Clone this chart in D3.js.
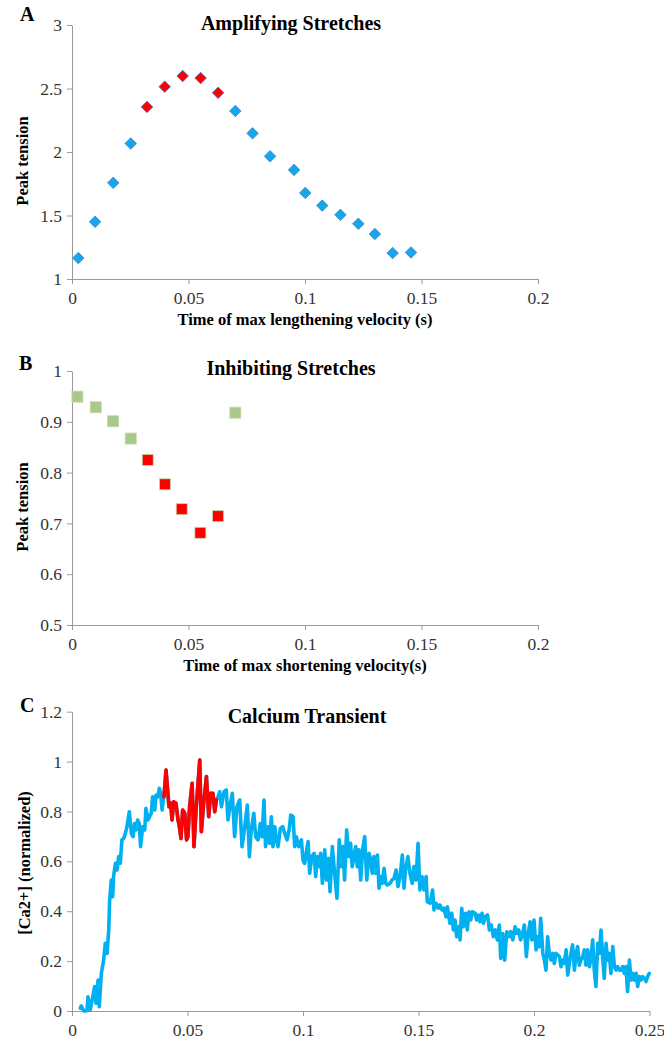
<!DOCTYPE html>
<html>
<head>
<meta charset="utf-8">
<script src="https://cdn.jsdelivr.net/npm/d3@7"></script>
<style>
  html, body { margin: 0; padding: 0; background: #fff; }
  svg { display: block; }
  svg .tick text { font-family: "Liberation Serif", serif; }
</style>
</head>
<body>
<svg id="chart" width="664" height="1041"></svg>
<script>
// ---------- Panel A: Amplifying Stretches ----------
const ampTime    = [0.0027,0.0099,0.0177,0.0252,0.0322,0.0398,0.0475,0.0552,0.0627,0.0701,0.0775,0.0850,0.0953,0.1001,0.1074,0.1152,0.1229,0.1300,0.1376,0.1455];
const ampTension = [1.165,1.450,1.757,2.067,2.355,2.514,2.598,2.582,2.466,2.323,2.147,1.966,1.859,1.678,1.578,1.505,1.435,1.354,1.204,1.209];
const ampHighlight = [0,0,0,0,1,1,1,1,1,0,0,0,0,0,0,0,0,0,0,0];
const ampXTicks = [0,0.05,0.1,0.15,0.2];
const ampXLabels = ["0","0.05","0.1","0.15","0.2"];
const ampYTicks = [1,1.5,2,2.5,3];
const ampYLabels = ["1","1.5","2","2.5","3"];

// ---------- Panel B: Inhibiting Stretches ----------
const inhTime    = [0.0023,0.0102,0.0176,0.0252,0.0325,0.0399,0.0471,0.0551,0.0627,0.0701];
const inhTension = [0.9495,0.9286,0.901,0.867,0.825,0.777,0.728,0.6815,0.7143,0.918];
const inhHighlight = [0,0,0,0,1,1,1,1,1,0];
const inhXTicks = [0,0.05,0.1,0.15,0.2];
const inhXLabels = ["0","0.05","0.1","0.15","0.2"];
const inhYTicks = [0.5,0.6,0.7,0.8,0.9,1];
const inhYLabels = ["0.5","0.6","0.7","0.8","0.9","1"];

// ---------- Panel C: Calcium Transient ----------
const caTime = [
0.0036,0.0040,0.0051,0.0065,0.0069,0.0079,0.0087,0.0098,0.0104,0.0113,0.0118,0.0127,0.0137,0.0144,0.0152,0.0159,0.0163,0.0170,0.0176,0.0180,
0.0188,0.0195,0.0202,0.0209,0.0216,0.0224,0.0231,0.0238,0.0248,0.0257,0.0264,0.0271,0.0277,0.0284,0.0291,0.0297,0.0306,0.0315,0.0320,0.0329,
0.0336,0.0343,0.0349,0.0358,0.0364,0.0372,0.0378,0.0384,0.0390,0.0395,0.0398,0.0407,0.0414,0.0420,0.0427,0.0433,0.0440,0.0450,0.0459,0.0465,
0.0472,0.0479,0.0488,0.0496,0.0502,0.0509,0.0520,0.0528,0.0538,0.0553,0.0560,0.0570,0.0582,0.0592,0.0600,0.0610,0.0618,0.0625,0.0632,0.0639,
0.0647,0.0658,0.0668,0.0675,0.0685,0.0694,0.0704,0.0714,0.0726,0.0736,0.0748,0.0759,0.0768,0.0776,0.0787,0.0795,0.0805,0.0815,0.0823,0.0831,
0.0838,0.0849,0.0856,0.0863,0.0870,0.0878,0.0885,0.0892,0.0902,0.0912,0.0921,0.0931,0.0940,0.0947,0.0957,0.0964,0.0971,0.0981,0.0993,0.1000,
0.1007,0.1022,0.1029,0.1038,0.1048,0.1055,0.1062,0.1069,0.1076,0.1084,0.1094,0.1102,0.1110,0.1117,0.1127,0.1137,0.1147,0.1157,0.1166,0.1173,
0.1180,0.1189,0.1198,0.1206,0.1213,0.1221,0.1228,0.1235,0.1242,0.1250,0.1258,0.1267,0.1276,0.1286,0.1293,0.1300,0.1307,0.1315,0.1322,0.1329,
0.1336,0.1343,0.1351,0.1358,0.1365,0.1377,0.1385,0.1394,0.1403,0.1411,0.1420,0.1430,0.1437,0.1444,0.1454,0.1463,0.1473,0.1480,0.1489,0.1498,
0.1506,0.1515,0.1524,0.1533,0.1538,0.1550,0.1561,0.1567,0.1576,0.1586,0.1593,0.1602,0.1610,0.1619,0.1625,0.1636,0.1644,0.1651,0.1658,0.1665,
0.1674,0.1680,0.1687,0.1694,0.1704,0.1711,0.1719,0.1726,0.1734,0.1745,0.1752,0.1759,0.1766,0.1775,0.1781,0.1789,0.1799,0.1807,0.1815,0.1824,
0.1833,0.1841,0.1850,0.1856,0.1864,0.1873,0.1882,0.1891,0.1899,0.1908,0.1918,0.1925,0.1934,0.1942,0.1951,0.1958,0.1967,0.1975,0.1983,0.1991,
0.2000,0.2009,0.2016,0.2023,0.2029,0.2038,0.2045,0.2052,0.2059,0.2066,0.2074,0.2081,0.2088,0.2095,0.2103,0.2110,0.2117,0.2124,0.2131,0.2139,
0.2146,0.2153,0.2160,0.2167,0.2175,0.2182,0.2189,0.2196,0.2203,0.2211,0.2218,0.2225,0.2232,0.2240,0.2247,0.2254,0.2261,0.2268,0.2276,0.2283,
0.2290,0.2297,0.2304,0.2312,0.2319,0.2326,0.2333,0.2341,0.2348,0.2355,0.2362,0.2369,0.2377,0.2384,0.2391,0.2398,0.2405,0.2413,0.2420,0.2427,
0.2434,0.2442,0.2449,0.2456,0.2463,0.2470,0.2478,0.2485,0.2492,0.2499];
const caValue = [
0.011,0.020,0.000,0.001,0.057,0.004,0.044,0.098,0.031,0.124,0.017,0.151,0.204,0.271,0.231,0.325,0.445,0.525,0.458,0.539,
0.592,0.565,0.619,0.592,0.686,0.692,0.712,0.739,0.799,0.712,0.699,0.752,0.726,0.766,0.752,0.659,0.739,0.726,0.813,0.766,
0.779,0.793,0.859,0.806,0.866,0.859,0.893,0.873,0.806,0.846,0.859,0.966,0.886,0.819,0.833,0.766,0.839,0.833,0.766,0.739,
0.692,0.806,0.793,0.686,0.699,0.819,0.913,0.659,0.819,1.006,0.719,0.833,0.940,0.779,0.873,0.873,0.799,0.846,0.859,0.879,
0.819,0.879,0.886,0.766,0.826,0.873,0.699,0.819,0.846,0.659,0.739,0.826,0.619,0.726,0.793,0.699,0.686,0.752,0.699,0.846,
0.659,0.739,0.672,0.779,0.659,0.739,0.686,0.659,0.732,0.739,0.712,0.686,0.726,0.786,0.779,0.659,0.699,0.659,0.686,0.605,
0.592,0.679,0.552,0.619,0.632,0.539,0.619,0.579,0.632,0.512,0.646,0.525,0.612,0.478,0.659,0.552,0.452,0.686,0.579,0.659,
0.525,0.726,0.619,0.672,0.579,0.619,0.659,0.579,0.646,0.525,0.646,0.699,0.525,0.632,0.605,0.552,0.619,0.552,0.625,0.492,
0.539,0.512,0.572,0.512,0.505,0.512,0.525,0.532,0.565,0.499,0.539,0.625,0.492,0.565,0.619,0.552,0.512,0.579,0.525,0.672,
0.485,0.539,0.485,0.539,0.438,0.432,0.485,0.405,0.432,0.412,0.425,0.405,0.412,0.378,0.418,0.352,0.392,0.325,0.365,0.298,
0.338,0.285,0.412,0.338,0.392,0.325,0.398,0.365,0.398,0.392,0.365,0.385,0.358,0.392,0.352,0.378,0.385,0.325,0.345,0.298,
0.325,0.285,0.345,0.211,0.311,0.204,0.318,0.298,0.318,0.285,0.338,0.311,0.325,0.285,0.311,0.345,0.218,0.311,0.358,0.285,
0.365,0.245,0.298,0.258,0.372,0.231,0.204,0.164,0.298,0.231,0.204,0.231,0.191,0.231,0.225,0.218,0.178,0.204,0.191,0.245,
0.144,0.191,0.231,0.265,0.164,0.231,0.258,0.184,0.204,0.218,0.245,0.184,0.245,0.178,0.218,0.285,0.164,0.098,0.271,0.231,
0.325,0.218,0.131,0.271,0.204,0.231,0.151,0.258,0.178,0.164,0.178,0.164,0.164,0.178,0.151,0.178,0.078,0.204,0.124,0.151,
0.124,0.151,0.098,0.138,0.124,0.138,0.131,0.118,0.138,0.151];
const caHighlight = [0.0398, 0.0625];
const caXTicks = [0,0.05,0.1,0.15,0.2,0.25];
const caXLabels = ["0","0.05","0.1","0.15","0.2","0.25"];
const caYTicks = [0,0.2,0.4,0.6,0.8,1,1.2];
const caYLabels = ["0","0.2","0.4","0.6","0.8","1","1.2"];

const svg = d3.select("#chart");
const BLUE = "#00b0f0";
const SERIF = '"Liberation Serif", "Times New Roman", "Tinos", "DejaVu Serif", serif';

function axes(g, x, y, xt, xl, yt, yl) {
  const ax = g.append("g").attr("transform",`translate(0,${y.range()[0]})`)
    .call(d3.axisBottom(x).tickValues(xt).tickFormat((d,i)=>xl[i]).tickSize(5).tickSizeOuter(0).tickPadding(8));
  const ay = g.append("g").attr("transform",`translate(${x.range()[0]},0)`)
    .call(d3.axisLeft(y).tickValues(yt).tickFormat((d,i)=>yl[i]).tickSize(5).tickSizeOuter(0).tickPadding(5));
  [ax, ay].forEach(a => {
    a.attr("font-family", SERIF).attr("font-size", 17.5);
    a.select(".domain").attr("stroke","#9a9a9a");
    a.selectAll(".tick line").attr("stroke","#9a9a9a");
    a.selectAll(".tick text").attr("fill","#333").attr("font-family", SERIF).attr("font-size", 17.5);
  });
}

function label(g, size, txt) {
  return g.append("text").attr("font-family", SERIF)
    .attr("font-weight","bold").attr("font-size", size).attr("fill","#000").text(txt);
}

// Panel A
{
  const x = d3.scaleLinear().domain([0,0.2]).range([72,538]);
  const y = d3.scaleLinear().domain([1,3]).range([279,25]);
  const g = svg.append("g");
  axes(g, x, y, ampXTicks, ampXLabels, ampYTicks, ampYLabels);
  const sym = d3.symbol().type(d3.symbolSquare).size(66);
  g.selectAll("path.pt").data(ampTime.map((t,i)=>({t, v:ampTension[i], h:ampHighlight[i]})))
    .join("path").attr("class","pt")
    .attr("d", sym)
    .attr("transform", d=>`translate(${x(d.t)},${y(d.v)}) rotate(45)`)
    .attr("fill", d=>d.h ? "#ff0000" : "#16a6ec")
    .attr("stroke", d=>d.h ? "#4f6fb8" : "#3f88cc")
    .attr("stroke-width", 0.8);
  label(g,20,"Amplifying Stretches").attr("x",291).attr("y",30).attr("text-anchor","middle");
  label(g,16.5,"Time of max lengthening velocity (s)").attr("x",305).attr("y",325).attr("text-anchor","middle");
  label(g,16.5,"Peak tension").attr("transform","translate(28,161) rotate(-90)").attr("text-anchor","middle");
  label(g,20,"A").attr("x",20).attr("y",21);
}

// Panel B
{
  const x = d3.scaleLinear().domain([0,0.2]).range([72,538]);
  const y = d3.scaleLinear().domain([0.5,1]).range([625,371]);
  const g = svg.append("g");
  axes(g, x, y, inhXTicks, inhXLabels, inhYTicks, inhYLabels);
  const s = 11;
  g.selectAll("rect.pt").data(inhTime.map((t,i)=>({t, v:inhTension[i], h:inhHighlight[i]})))
    .join("rect").attr("class","pt")
    .attr("x", d=>x(d.t)-s/2).attr("y", d=>y(d.v)-s/2).attr("width", s).attr("height", s)
    .attr("fill", d=>d.h ? "#ff0000" : "#a9c98c")
    .attr("stroke", "#c6d9a4")
    .attr("stroke-width", 0.8);
  label(g,20,"Inhibiting Stretches").attr("x",291).attr("y",375).attr("text-anchor","middle");
  label(g,16.5,"Time of max shortening velocity(s)").attr("x",305).attr("y",671).attr("text-anchor","middle");
  label(g,16.5,"Peak tension").attr("transform","translate(28,507) rotate(-90)").attr("text-anchor","middle");
  label(g,20,"B").attr("x",19).attr("y",370);
}

// Panel C
{
  const x = d3.scaleLinear().domain([0,0.25]).range([72,649.5]);
  const y = d3.scaleLinear().domain([0,1.2]).range([1011,711.7]);
  const g = svg.append("g");
  axes(g, x, y, caXTicks, caXLabels, caYTicks, caYLabels);
  const pts = caTime.map((t,i)=>({t, v:caValue[i]}));
  const line = d3.line().x(d=>x(d.t)).y(d=>y(d.v));
  g.append("path").datum(pts).attr("d", line).attr("fill","none").attr("stroke",BLUE)
    .attr("stroke-width",3.6).attr("stroke-linejoin","round").attr("stroke-linecap","round");
  g.append("path").datum(pts.filter(d=>d.t>=caHighlight[0] && d.t<=caHighlight[1])).attr("d", line)
    .attr("fill","none").attr("stroke","#ff0000")
    .attr("stroke-width",3.6).attr("stroke-linejoin","round").attr("stroke-linecap","round");
  label(g,20,"Calcium Transient").attr("x",307).attr("y",723).attr("text-anchor","middle");
  label(g,16.5,"[Ca2+] (normalized)").attr("transform","translate(30,863) rotate(-90)").attr("text-anchor","middle");
  label(g,20,"C").attr("x",20).attr("y",712);
}
</script>
</body>
</html>
